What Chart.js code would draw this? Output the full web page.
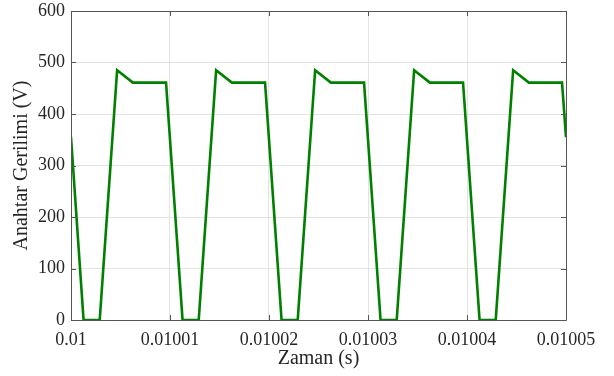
<!DOCTYPE html>
<html>
<head>
<meta charset="utf-8">
<script src="https://cdn.jsdelivr.net/npm/chart.js@4/dist/chart.umd.min.js"></script>
<style>
  html, body { margin: 0; padding: 0; background: #fff; }
  #wrap { width: 614px; height: 376px; position: relative; }
</style>
</head>
<body>
<div id="wrap"><canvas id="c" width="614" height="376"></canvas></div>
<script>
// Time (s) and switch voltage (V)
const timeS = [
  0.01,
  0.01000127, 0.0100029, 0.01000466, 0.01000625, 0.0100096,
  0.01001127, 0.0100129, 0.01001466, 0.01001625, 0.0100196,
  0.01002127, 0.0100229, 0.01002466, 0.01002625, 0.0100296,
  0.01003127, 0.0100329, 0.01003466, 0.01003625, 0.0100396,
  0.01004127, 0.0100429, 0.01004466, 0.01004625, 0.0100496,
  0.01005
];
const voltageV = [
  355,
  0, 0, 485, 461, 461,
  0, 0, 485, 461, 461,
  0, 0, 485, 461, 461,
  0, 0, 485, 461, 461,
  0, 0, 485, 461, 461,
  355
];
const xTickValues = [0.01, 0.01001, 0.01002, 0.01003, 0.01004, 0.01005];
const xTickLabels = ['0.01', '0.01001', '0.01002', '0.01003', '0.01004', '0.01005'];
const yTickValues = [0, 100, 200, 300, 400, 500, 600];
const yTickLabels = ['0', '100', '200', '300', '400', '500', '600'];
const xTitle = 'Zaman (s)';
const yTitle = 'Anahtar Gerilimi (V)';

const points = timeS.map((t, i) => ({ x: t, y: voltageV[i] }));

const boxPlugin = {
  id: 'box',
  afterDraw(chart) {
    const { ctx, chartArea: a, scales } = chart;
    ctx.save();
    ctx.strokeStyle = '#555';
    ctx.lineWidth = 1;
    ctx.beginPath();
    ctx.rect(Math.round(a.left) + 0.5, Math.round(a.top) + 0.5,
             Math.round(a.right - a.left), Math.round(a.bottom - a.top));
    ctx.stroke();
    const L = 5;
    ctx.beginPath();
    xTickValues.forEach(v => {
      const px = Math.round(scales.x.getPixelForValue(v)) + 0.5;
      ctx.moveTo(px, a.bottom); ctx.lineTo(px, a.bottom - L);
      ctx.moveTo(px, a.top); ctx.lineTo(px, a.top + L);
    });
    yTickValues.forEach(v => {
      const py = Math.round(scales.y.getPixelForValue(v)) + 0.5;
      ctx.moveTo(a.left, py); ctx.lineTo(a.left + L, py);
      ctx.moveTo(a.right, py); ctx.lineTo(a.right - L, py);
    });
    ctx.stroke();
    ctx.restore();
  }
};

new Chart(document.getElementById('c'), {
  type: 'line',
  data: {
    datasets: [{
      data: points,
      borderColor: '#008000',
      borderWidth: 2.6,
      pointRadius: 0,
      tension: 0,
      fill: false
    }]
  },
  options: {
    responsive: false,
    animation: false,
    layout: { padding: { top: 11, right: 48, left: 0, bottom: 0 } },
    plugins: { legend: { display: false }, tooltip: { enabled: false } },
    scales: {
      x: {
        type: 'linear',
        min: 0.01, max: 0.01005,
        afterBuildTicks(s) { s.ticks = xTickValues.map(v => ({ value: v })); },
        afterFit(s) { s.height = 56; s.paddingLeft = 0; s.paddingRight = 0; },
        ticks: {
          callback: (v, i) => xTickLabels[i],
          color: '#262626',
          font: { family: 'Liberation Serif', size: 18 },
          padding: 9,
          maxRotation: 0,
          autoSkip: false
        },
        grid: { color: '#e3e3e3', drawTicks: false },
        border: { display: false },
        title: {
          display: true, text: xTitle, color: '#262626',
          font: { family: 'Liberation Serif', size: 20 },
          padding: { top: 0, bottom: 5 }
        }
      },
      y: {
        min: 0, max: 600,
        afterBuildTicks(s) { s.ticks = yTickValues.map(v => ({ value: v })); },
        afterFit(s) { s.width = 71; s.paddingTop = 0; s.paddingBottom = 0; },
        ticks: {
          callback: (v, i) => yTickLabels[i],
          color: '#262626',
          font: { family: 'Liberation Serif', size: 18 },
          padding: 6
        },
        grid: { color: '#e3e3e3', drawTicks: false },
        border: { display: false },
        title: {
          display: true, text: yTitle, color: '#262626',
          font: { family: 'Liberation Serif', size: 20 },
          padding: { top: 10, bottom: 0 }
        }
      }
    }
  },
  plugins: [boxPlugin]
});
</script>
</body>
</html>
